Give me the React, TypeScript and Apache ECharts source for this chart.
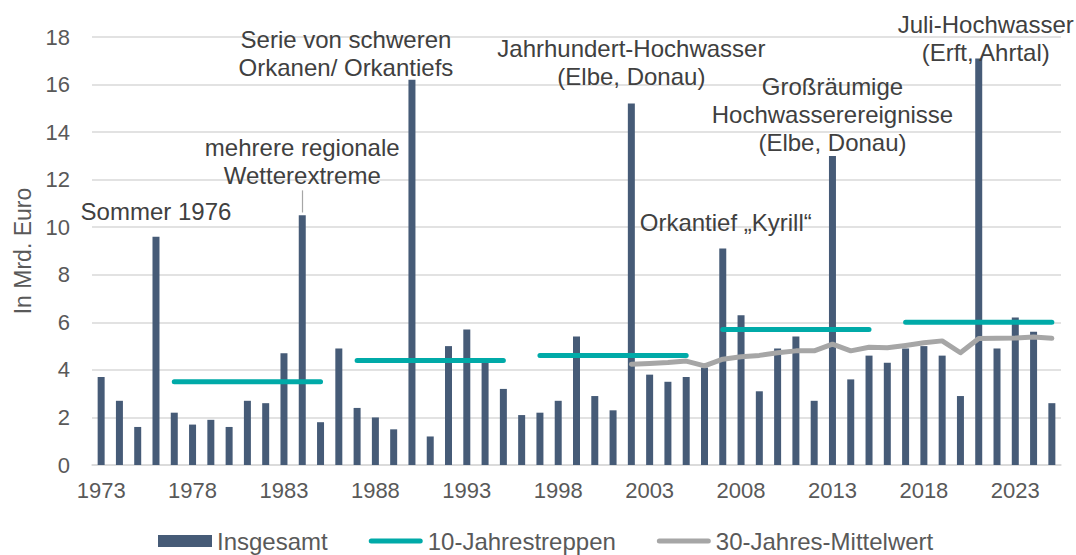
import React, { useEffect, useRef } from "react";
import * as echarts from "echarts";

const years: string[] = [];
for (let y = 1973; y <= 2025; y++) years.push(String(y));

const insgesamt = [
  3.7, 2.7, 1.6, 9.6, 2.2, 1.7, 1.9, 1.6, 2.7, 2.6, 4.7, 10.5, 1.8,
  4.9, 2.4, 2.0, 1.5, 16.2, 1.2, 5.0, 5.7, 4.3, 3.2,
  2.1, 2.2, 2.7, 5.4, 2.9, 2.3, 15.2, 3.8, 3.5, 3.7,
  4.1, 9.1, 6.3, 3.1, 4.9, 5.4, 2.7, 13.0, 3.6, 4.6,
  4.3, 4.9, 5.0, 4.6, 2.9, 17.1, 4.9, 6.2, 5.6, 2.6,
];

const stepStart = [1977, 1987, 1997, 2007, 2017];
const stepEnd = [1985, 1995, 2005, 2015, 2025];
const stepValue = [3.5, 4.4, 4.6, 5.7, 6.0];

const meanStartYear = 2002;
const mittelwert30 = [
  4.24, 4.27, 4.31, 4.37, 4.17, 4.45, 4.55, 4.61, 4.72, 4.8, 4.8, 5.08,
  4.8, 4.95, 4.93, 5.03, 5.14, 5.22, 4.72, 5.32, 5.33, 5.34, 5.38, 5.33,
];

const annoYears = ["1976", "1984", "1990", "2002", "2007", "2013", "2021"];
const annoValues = [10.67, 12.77, 17.29, 16.93, 10.21, 14.75, 17.92];
const annoTexts = [
  "Sommer 1976",
  "mehrere regionale\nWetterextreme",
  "Serie von schweren\nOrkanen/ Orkantiefs",
  "Jahrhundert-Hochwasser\n(Elbe, Donau)",
  "Orkantief „Kyrill“",
  "Großräumige\nHochwasserereignisse\n(Elbe, Donau)",
  "Juli-Hochwasser\n(Erft, Ahrtal)",
];
const annoOffsetX = [0, 0, -66, 0, 3, 0, 7];

const lineIcon =
  "path://M2.5,0 H51.5 A2.5,2.5 0 0 1 51.5,5 H2.5 A2.5,2.5 0 0 1 2.5,0 Z";

export default function App() {
  const ref = useRef<HTMLDivElement>(null);
  useEffect(() => {
    if (!ref.current) return;
    const chart = echarts.init(ref.current, undefined, { renderer: "svg" });

    const steps = years.map((y) => {
      const yr = Number(y);
      for (let i = 0; i < stepStart.length; i++) {
        if (yr >= stepStart[i] && yr <= stepEnd[i]) return stepValue[i];
      }
      return null;
    });
    const mean = years.map((y) => {
      const idx = Number(y) - meanStartYear;
      return idx >= 0 && idx < mittelwert30.length ? mittelwert30[idx] : null;
    });

    const font = "Arial, 'Liberation Sans', sans-serif";

    chart.setOption({
      animation: false,
      textStyle: { fontFamily: font },
      grid: { left: 92, right: 15, top: 37, bottom: 90, outerBoundsMode: "none" },
      legend: {
        left: 153,
        top: 524,
        itemWidth: 54,
        itemHeight: 12,
        itemGap: 41,
        symbolKeepAspect: true,
        textStyle: { fontSize: 24, color: "#595959", fontFamily: font },
        data: [
          { name: "Insgesamt", icon: "rect" },
          { name: "10-Jahrestreppen", icon: lineIcon },
          { name: "30-Jahres-Mittelwert", icon: lineIcon },
        ],
      },
      xAxis: {
        type: "category",
        data: years,
        boundaryGap: true,
        axisLine: { lineStyle: { color: "#d9d9d9", width: 1.5 } },
        axisTick: { show: false },
        axisLabel: { interval: 4, fontSize: 22, color: "#595959", margin: 14, fontFamily: font },
      },
      yAxis: {
        type: "value",
        min: 0,
        max: 18,
        interval: 2,
        name: "In Mrd. Euro",
        nameLocation: "middle",
        nameGap: 58,
        nameTextStyle: { fontSize: 23, color: "#595959", fontFamily: font },
        axisLabel: { fontSize: 22, color: "#595959", margin: 22, fontFamily: font },
        splitLine: { lineStyle: { color: "#d9d9d9", width: 1.5 } },
        axisLine: { show: false },
        axisTick: { show: false },
      },
      series: [
        {
          name: "Insgesamt",
          type: "bar",
          data: insgesamt,
          barWidth: 7,
          itemStyle: { color: "#465b77" },
          z: 2,
          markLine: {
            silent: true,
            symbol: ["none", "none"],
            label: { show: false },
            lineStyle: { color: "#a6a6a6", width: 1.2, type: "solid" },
            data: [[{ coord: ["1984", 10.62] }, { coord: ["1984", 11.55] }]],
          },
          markPoint: {
            silent: true,
            symbol: "rect",
            symbolSize: 1,
            itemStyle: { color: "rgba(0,0,0,0)" },
            label: {
              show: true,
              position: "inside",
              fontSize: 24,
              lineHeight: 28,
              color: "#404040",
              fontFamily: font,
              align: "center",
            },
            data: annoYears.map((y, i) => ({
              coord: [y, annoValues[i]],
              value: annoTexts[i],
              label: { formatter: annoTexts[i], offset: [annoOffsetX[i], 0] },
            })),
          },
        },
        {
          name: "10-Jahrestreppen",
          type: "line",
          data: steps,
          symbol: "none",
          connectNulls: false,
          lineStyle: { color: "#00aaa8", width: 5, cap: "round" },
          itemStyle: { color: "#00aaa8" },
          z: 3,
        },
        {
          name: "30-Jahres-Mittelwert",
          type: "line",
          data: mean,
          symbol: "none",
          lineStyle: { color: "#a6a6a6", width: 5, cap: "round", join: "round" },
          itemStyle: { color: "#a6a6a6" },
          z: 4,
        },
      ],
    });
    return () => chart.dispose();
  }, []);
  return (
    <div
      ref={ref}
      style={{ position: "fixed", left: 0, top: 0, width: 1076, height: 555, background: "#fff" }}
    />
  );
}
